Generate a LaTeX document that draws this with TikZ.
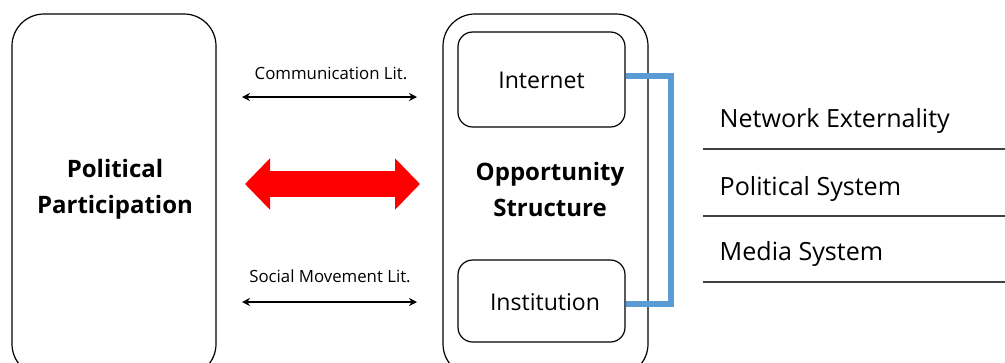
\documentclass[tikz,border=0pt]{standalone}
\usepackage{fontspec}
\setmainfont{Open Sans}
\usetikzlibrary{arrows.meta,calc}
\definecolor{linkblue}{RGB}{91,155,213}
\definecolor{bigred}{RGB}{255,0,0}
\tikzset{
  outer box/.style={
    rectangle,
    rounded corners=24pt,
    draw=black,
    line width=0.9pt,
    minimum width=153pt,
    minimum height=271.5pt,
    inner sep=0pt
  },
  inner box/.style={
    rectangle,
    rounded corners=11pt,
    draw=black,
    line width=0.9pt,
    minimum width=125.25pt,
    inner sep=0pt
  },
  title text/.style={font=\bfseries\fontsize{18}{27}\selectfont,align=center},
  item text/.style={font=\fontsize{17.3}{20}\selectfont},
  small text/.style={font=\fontsize{12.6}{15}\selectfont},
  list text/.style={font=\fontsize{18.8}{22}\selectfont,anchor=west},
  lit arrow/.style={{Stealth[length=6pt,width=6pt]}-{Stealth[length=6pt,width=6pt]},line width=0.8pt},
  main arrow/.style={{Triangle[length=18.75pt,width=37.5pt]}-{Triangle[length=18.75pt,width=37.5pt]},line width=19.5pt,draw=bigred},
  bracket/.style={line width=4.5pt,draw=linkblue},
  rule/.style={line width=0.8pt,draw=black!75}
}

\begin{document}
\begin{tikzpicture}[x=0.75pt,y=-0.75pt]
  \useasboundingbox (0,0) rectangle (1005,362);
  \clip (0,0) rectangle (1005,362);

  % the two big panels
  \node[outer box] (part) at (114,195) {};
  \node[outer box,minimum width=153.75pt] (opp) at (545.5,195) {};
  \node[title text] (partlabel) at (115,189) {Political\\Participation};
  \node[title text] (opplabel) at (550,189) {Opportunity\\Structure};

  \node[inner box,minimum height=71.25pt] (inet) at (541.5,79.5) {};
  \node[inner box,minimum height=61.5pt] (inst) at (541.5,301) {};
  \node[item text] (inetlabel) at (541.5,80) {Internet};
  \node[item text] (instlabel) at (545,302) {Institution};

  % literature arrows
  \coordinate (commL) at (242,97);
  \coordinate (commR) at (417,97);
  \coordinate (socL) at (242,302);
  \coordinate (socR) at (417,302);
  \node[small text] (commlabel) at (331,73) {Communication Lit.};
  \node[small text] (soclabel) at (330,276) {Social Movement Lit.};
  \draw[lit arrow] (commL) -- (commR);
  \draw[lit arrow] (socL) -- (socR);

  \coordinate (bigL) at (245,184);
  \coordinate (bigR) at (420,184);
  \draw[main arrow] (bigL) -- (bigR);

  % bracket to the factor list
  \draw[bracket] ([yshift=3pt]inet.east) -- ++(45,0) |- ([yshift=-2pt]inst.east);

  \node[list text] (netext) at (715,121) {Network Externality};
  \node[list text] (polsys) at (715,189) {Political System};
  \node[list text] (medsys) at (715,254) {Media System};
  \foreach \y in {149,216,282} {
    \draw[rule] (703,\y) -- (1005,\y);
  }
\end{tikzpicture}
\end{document}
